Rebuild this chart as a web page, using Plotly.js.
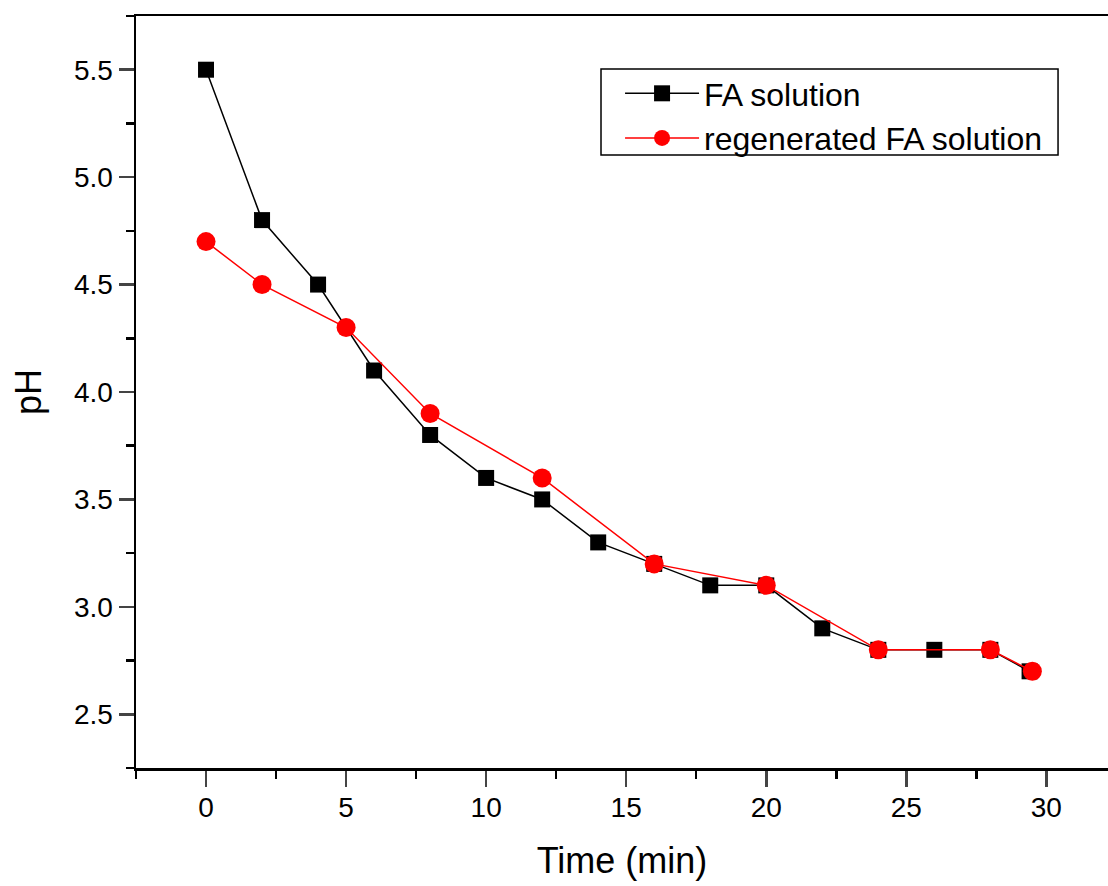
<!DOCTYPE html>
<html><head><meta charset="utf-8">
<script src="https://cdn.plot.ly/plotly-3.0.1.min.js"></script>
<style>html,body{margin:0;padding:0;background:#fff}</style>
</head><body><div id="chart" style="width:1108px;height:886px"></div>
<script>
var faTime = [0,2,4,6,8,10,12,14,16,18,20,22,24,26,28,29.4];
var faPH = [5.5,4.8,4.5,4.1,3.8,3.6,3.5,3.3,3.2,3.1,3.1,2.9,2.8,2.8,2.8,2.7];
var regTime = [0,2,5,8,12,16,20,24,28,29.5];
var regPH = [4.7,4.5,4.3,3.9,3.6,3.2,3.1,2.8,2.8,2.7];
var seriesNames = ['FA solution','regenerated FA solution'];
var xTicks = [0,5,10,15,20,25,30];
var yTicks = [2.5,3.0,3.5,4.0,4.5,5.0,5.5];
var yTickText = ['2.5','3.0','3.5','4.0','4.5','5.0','5.5'];

var FONT = 'Liberation Sans, Arial, sans-serif';
var traces = [
  {x: faTime, y: faPH, name: seriesNames[0], mode: 'lines+markers', type: 'scatter',
   line: {color: '#000', width: 1.5}, marker: {symbol: 'square', size: 16, color: '#000'}},
  {x: regTime, y: regPH, name: seriesNames[1], mode: 'lines+markers', type: 'scatter',
   line: {color: '#ff0000', width: 1.5}, marker: {symbol: 'circle', size: 19, color: '#ff0000'}}
];
var axFont = {family: FONT, size: 28, color: '#000'};
var layout = {
  width: 1108, height: 886,
  margin: {l: 136, r: 0, t: 16, b: 118},
  paper_bgcolor: '#fff', plot_bgcolor: '#fff',
  showlegend: true,
  legend: {x: 0.498, y: 0.9335, xanchor: 'left', yanchor: 'top',
    bgcolor: 'rgba(0,0,0,0)', borderwidth: 0,
    font: {family: FONT, size: 32, color: '#000'},
    tracegroupgap: 0, itemwidth: 74},
  shapes: [{type: 'rect', xref: 'paper', yref: 'paper', x0: 0.4784, x1: 0.9486, y0: 0.8152, y1: 0.9295,
    line: {color: '#000', width: 1.5}, fillcolor: '#fff', layer: 'below'}],
  xaxis: {range: [-2.5, 32.2], tickvals: xTicks, ticks: 'outside', ticklen: 16, tickwidth: 2.5,
    showline: true, linewidth: 2.5, linecolor: '#000', mirror: true, showgrid: false, zeroline: false,
    tickfont: axFont, ticklabelstandoff: -3,
    minor: {dtick: 2.5, tick0: 0, ticks: 'outside', ticklen: 8, tickwidth: 2.5, tickcolor: '#000', showgrid: false},
    title: {text: 'Time (min)', font: {family: FONT, size: 36, color: '#000'}, standoff: 26}},
  yaxis: {range: [2.25, 5.75], tickvals: yTicks, ticktext: yTickText,
    ticks: 'outside', ticklen: 15, tickwidth: 2.5,
    showline: true, linewidth: 2.5, linecolor: '#000', showgrid: false, zeroline: false,
    tickfont: axFont,
    minor: {dtick: 0.25, tick0: 2.25, ticks: 'outside', ticklen: 8, tickwidth: 2.5, tickcolor: '#000', showgrid: false},
    title: {text: 'pH', font: {family: FONT, size: 36, color: '#000'}, standoff: 22}}
};
Plotly.newPlot('chart', traces, layout, {displayModeBar: false, staticPlot: true});
</script></body></html>
